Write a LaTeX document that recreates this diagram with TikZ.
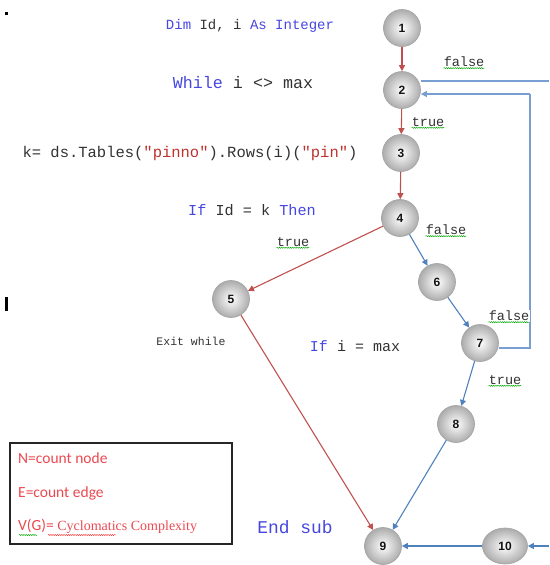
\documentclass[tikz,border=0pt]{standalone}
\usepackage{fontspec}
\setmainfont{Carlito}
\newfontfamily\monof{Liberation Mono}
\newfontfamily\seriff{Liberation Serif}
\newfontfamily\arialf{Liberation Sans}
\usetikzlibrary{arrows.meta,decorations.pathmorphing,shapes.geometric}
\definecolor{redln}{RGB}{192,80,77}
\definecolor{blueln}{RGB}{79,129,189}
\definecolor{loopln}{RGB}{120,158,210}
\definecolor{kw}{RGB}{70,70,225}
\definecolor{strc}{RGB}{190,50,45}
\definecolor{codec}{RGB}{50,50,50}
\definecolor{legendc}{RGB}{235,72,80}
\tikzset{
  vtx/.style={circle, minimum size=37pt, inner sep=0pt, draw=gray!70, line width=0.7pt,
    shading=radial, inner color=white, outer color=gray!65,
    font=\arialf\bfseries\fontsize{12}{13}\selectfont, text=gray!15!black},
  vtxw/.style={vtx, ellipse, minimum width=45pt, minimum height=36pt},
  redge/.style={draw=redln, line width=1.1pt, -{Triangle[length=6pt,width=6pt]}},
  bedge/.style={draw=blueln, line width=1.1pt, -{Triangle[length=6pt,width=6pt]}},
  ledge/.style={draw=loopln, line width=1.3pt},
  lbl/.style={font=\monof\fontsize{13.5}{15}\selectfont, text=codec, inner sep=1pt},
  code/.style={font=\monof, text=codec, inner sep=0pt},
  wavy/.style={draw=green!65!black, line width=0.45pt, decorate,
    decoration={snake, amplitude=0.6pt, segment length=2.2pt}},
  rwavy/.style={wavy, draw=red!80},
  legend/.style={font=\fontsize{15.5}{17}\selectfont, text=legendc, anchor=west, inner sep=0pt}
}
\begin{document}
\begin{tikzpicture}[x=1pt,y=-1pt]
\useasboundingbox (0,0) rectangle (549,565);
% stray marks
\fill[black] (5,12) rectangle (8,15);
\fill[black] (5,297) rectangle (8,311);

% vertices
\node[vtx] (n1) at (402,28) {1};
\node[vtx] (n2) at (402,90) {2};
\node[vtx] (n3) at (401,153) {3};
\node[vtx] (n4) at (400,218) {4};
\node[vtx] (n5) at (231,299) {5};
\node[vtx] (n6) at (437,282) {6};
\node[vtx] (n7) at (480,343) {7};
\node[vtx] (n8) at (456,424) {8};
\node[vtx] (n9) at (383,546) {9};
\node[vtxw] (n10) at (505,546) {10};

% code text
\node[code, font=\monof\fontsize{14}{16}\selectfont] (t1) at (250,26)
  {\textcolor{kw}{Dim} Id, i \textcolor{kw}{As Integer}};
\node[code, font=\monof\fontsize{16.7}{18}\selectfont] (t2) at (243,83)
  {\textcolor{kw}{While} i <> max};
\node[code, font=\monof\fontsize{15.5}{17}\selectfont] (t3) at (190,153)
  {k= ds.Tables(\textcolor{strc}{"pinno"}).Rows(i)(\textcolor{strc}{"pin"})};
\node[code, font=\monof\fontsize{15.2}{17}\selectfont] (t4) at (252,210)
  {\textcolor{kw}{If} Id = k \textcolor{kw}{Then}};
\node[code, font=\monof\fontsize{15}{17}\selectfont] (t7) at (355,346)
  {\textcolor{kw}{If} i = max};
\node[code, font=\monof\fontsize{11.5}{13}\selectfont] (t5) at (191,341) {Exit while};
\node[code, font=\monof\fontsize{17.9}{19}\selectfont, text=kw] (t9) at (295,527) {End sub};

% loop-back from 7 to 2 and false exit from 2
\coordinate (lr) at (530,348);
\coordinate (lt) at (530,94);
\coordinate (fx) at (549,81);
\draw[ledge] ([yshift=-5pt]n7.east) -- (lr) -- (lt);
\draw[ledge, -{Triangle[length=6pt,width=6pt]}] (lt) -- ([yshift=-4pt]n2.east);
\draw[ledge] ([yshift=9pt]n2.east) -- (fx);

% edges
\draw[redge] (n1) -- (n2);
\draw[redge] (n2) -- (n3);
\draw[redge] (n3) -- (n4);
\draw[redge] (n4) -- (n5);
\draw[redge] (n5) -- (n9);
\draw[bedge] (n4) -- (n6);
\draw[bedge] (n6) -- (n7);
\draw[bedge] (n7) -- (n8);
\draw[bedge] (n8) -- (n9);
\draw[bedge] (n10) -- (n9);
\coordinate (in10) at (549,546);
\draw[bedge] (in10) -- (n10);

% edge labels
\node[lbl] (l1) at (464,62) {false};
\node[lbl] (l2) at (428,122) {true};
\node[lbl] (l3) at (446,230) {false};
\node[lbl] (l4) at (293,242) {true};
\node[lbl, fill=white] (l5) at (509,316) {false};
\node[lbl] (l6) at (505,380) {true};
\foreach \l in {l1,l2,l3,l4,l5,l6}
  \draw[wavy] ([xshift=1pt]\l.south west) -- ([xshift=-1pt]\l.south east);

% legend box
\node[draw=gray!30!black, line width=1.2pt, minimum width=222pt, minimum height=101pt,
  inner sep=0pt] (box) at (121,493.5) {};
\node[legend] (g1) at (18,458) {N=count node};
\node[legend] (g2) at (18,493) {E=count edge};
\node[legend] (g3) at (18,526) {V(G)= \seriff\fontsize{14}{16}\selectfont Cyclomatics Complexity};
\coordinate (w1a) at (19,535);
\coordinate (w1b) at (37,535);
\coordinate (w2a) at (48,535);
\coordinate (w2b) at (116,535);
\draw[wavy] (w1a) -- (w1b);
\draw[rwavy] (w2a) -- (w2b);
\end{tikzpicture}
\end{document}
